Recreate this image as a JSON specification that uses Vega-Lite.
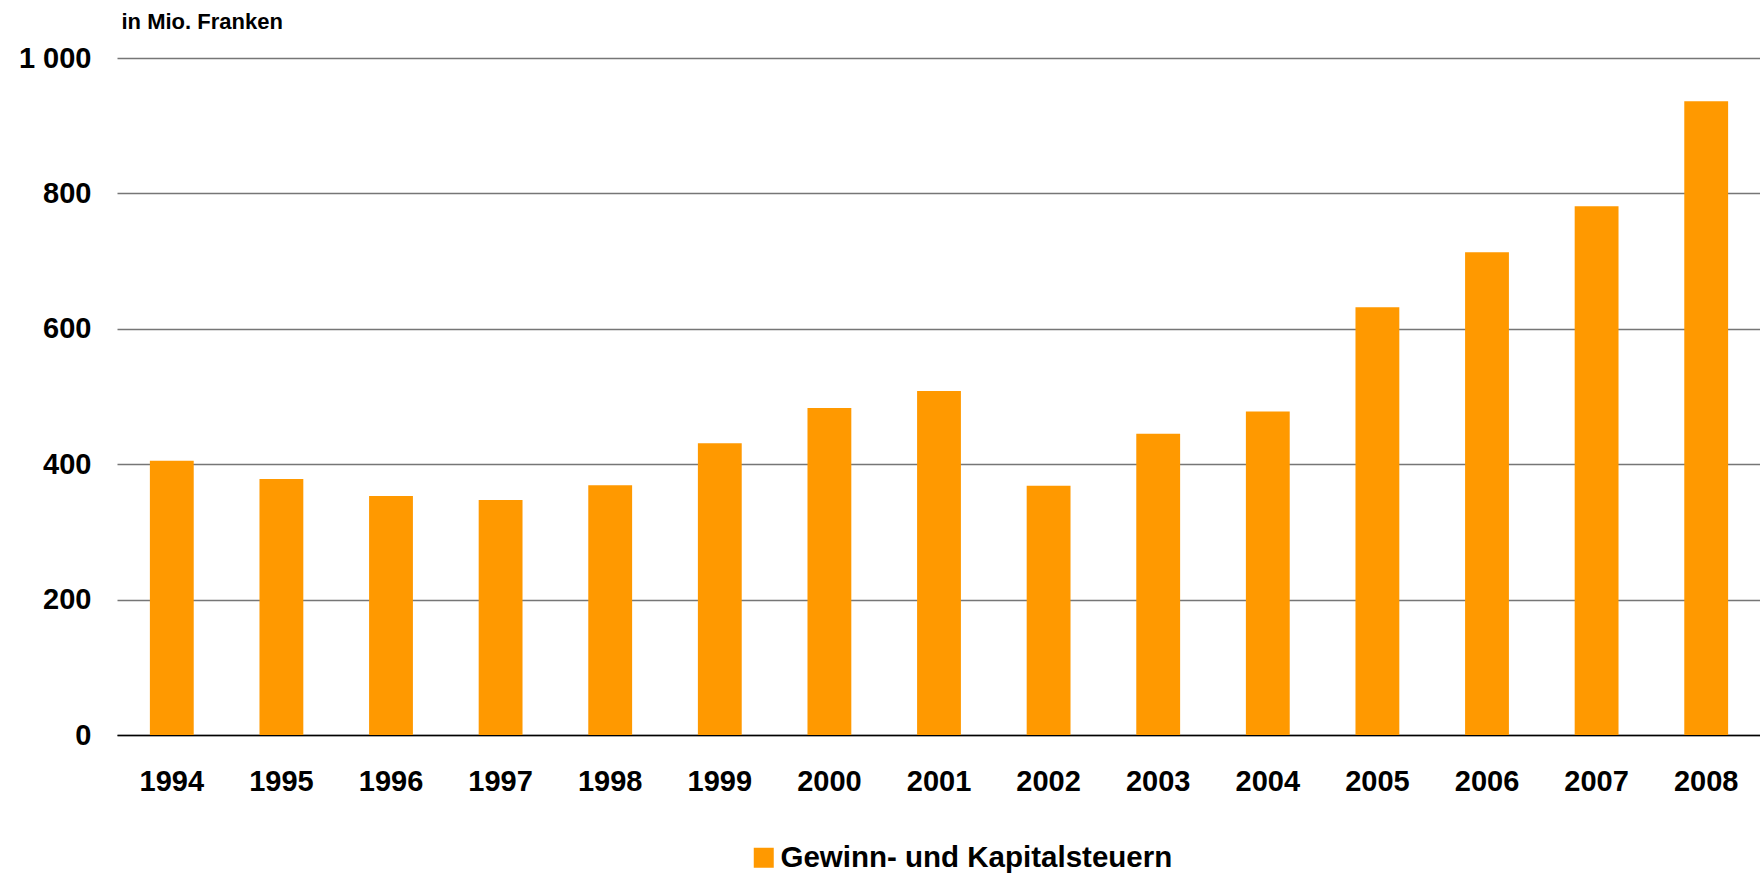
{
  "$schema": "https://vega.github.io/schema/vega-lite/v6.json",
  "autosize": {"type": "none"},
  "padding": {"left": 117, "top": 58, "right": 0, "bottom": 139},
  "width": 1644,
  "height": 677,
  "background": "white",
  "data": {
    "values": [
      {"year": "1994", "value": 405, "series": "Gewinn- und Kapitalsteuern"},
      {"year": "1995", "value": 378, "series": "Gewinn- und Kapitalsteuern"},
      {"year": "1996", "value": 353, "series": "Gewinn- und Kapitalsteuern"},
      {"year": "1997", "value": 347, "series": "Gewinn- und Kapitalsteuern"},
      {"year": "1998", "value": 369, "series": "Gewinn- und Kapitalsteuern"},
      {"year": "1999", "value": 431, "series": "Gewinn- und Kapitalsteuern"},
      {"year": "2000", "value": 483, "series": "Gewinn- und Kapitalsteuern"},
      {"year": "2001", "value": 508, "series": "Gewinn- und Kapitalsteuern"},
      {"year": "2002", "value": 368, "series": "Gewinn- und Kapitalsteuern"},
      {"year": "2003", "value": 445, "series": "Gewinn- und Kapitalsteuern"},
      {"year": "2004", "value": 478, "series": "Gewinn- und Kapitalsteuern"},
      {"year": "2005", "value": 632, "series": "Gewinn- und Kapitalsteuern"},
      {"year": "2006", "value": 713, "series": "Gewinn- und Kapitalsteuern"},
      {"year": "2007", "value": 781, "series": "Gewinn- und Kapitalsteuern"},
      {"year": "2008", "value": 936, "series": "Gewinn- und Kapitalsteuern"}
    ]
  },
  "mark": {"type": "bar"},
  "encoding": {
    "x": {
      "field": "year",
      "type": "nominal",
      "scale": {"paddingInner": 0.6, "paddingOuter": 0.3},
      "axis": {
        "title": null,
        "labelAngle": 0,
        "labelFont": "Liberation Sans",
        "labelFontSize": 29,
        "labelFontWeight": "bold",
        "labelColor": "#000000",
        "labelPadding": 32,
        "ticks": false,
        "domain": true,
        "domainColor": "#000000",
        "domainWidth": 1.5,
        "grid": false
      }
    },
    "y": {
      "field": "value",
      "type": "quantitative",
      "scale": {"domain": [0, 1000], "nice": false},
      "axis": {
        "title": "in Mio. Franken",
        "titleAngle": 0,
        "titleX": 4,
        "titleY": -30,
        "titleAlign": "left",
        "titleBaseline": "alphabetic",
        "titleFont": "Liberation Sans",
        "titleFontSize": 22,
        "titleFontWeight": "bold",
        "titleColor": "#000000",
        "values": [0, 200, 400, 600, 800, 1000],
        "labelExpr": "replace(format(datum.value, ','), ',', ' ')",
        "labelFont": "Liberation Sans",
        "labelFontSize": 29,
        "labelFontWeight": "bold",
        "labelColor": "#000000",
        "labelPadding": 26,
        "ticks": false,
        "domain": false,
        "grid": true,
        "gridColor": "#767676",
        "gridWidth": 1.5
      }
    },
    "color": {
      "field": "series",
      "type": "nominal",
      "scale": {"range": ["#FF9900"]},
      "legend": {
        "title": null,
        "orient": "none",
        "legendX": 632,
        "legendY": 785,
        "padding": 0,
        "symbolType": "square",
        "symbolSize": 400,
        "symbolStrokeWidth": 0,
        "symbolOpacity": 1,
        "labelOffset": 2,
        "labelFont": "Liberation Sans",
        "labelFontSize": 29.5,
        "labelFontWeight": "bold",
        "labelColor": "#000000",
        "labelLimit": 1000
      }
    }
  },
  "config": {
    "view": {"stroke": null}
  }
}
